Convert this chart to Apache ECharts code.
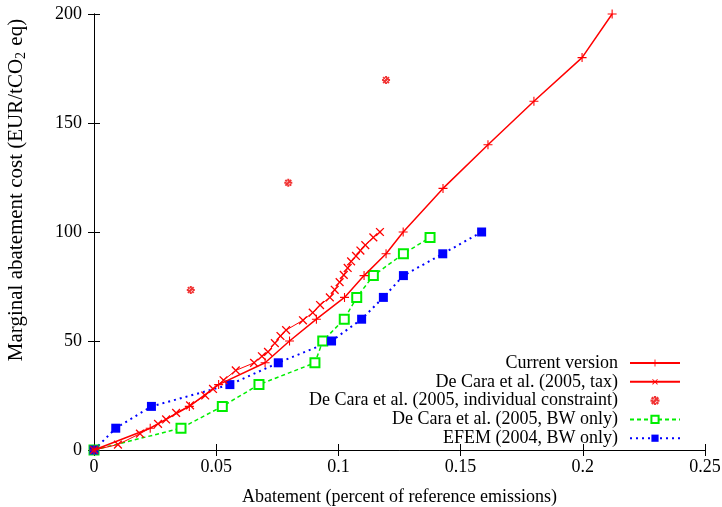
<!DOCTYPE html>
<html>
<head>
<meta charset="utf-8">
<script src="https://cdn.jsdelivr.net/npm/echarts@6/dist/echarts.min.js"></script>
<style>
  html, body { margin: 0; padding: 0; background: #fff; }
  #chart { width: 722px; height: 507px; }
</style>
</head>
<body>
<div id="chart"></div>
<script>
// abatement (share of reference emissions) vs marginal cost (EUR/tCO2 eq)
const currentVersion = [
  [0, 0], [0.023, 10], [0.039, 20], [0.051, 30], [0.070, 40], [0.080, 50],
  [0.091, 60], [0.1025, 70], [0.1105, 80], [0.1195, 90], [0.1265, 100],
  [0.1428, 120], [0.1612, 140], [0.180, 160], [0.1997, 180], [0.212, 200]
];
const deCaraTax = [
  [0, 0], [0.0098, 2.5], [0.0188, 7.5], [0.0262, 12], [0.0295, 14], [0.0336, 17],
  [0.0393, 20.5], [0.0455, 25], [0.0487, 28], [0.053, 32], [0.058, 36.5],
  [0.0655, 40], [0.0687, 43], [0.0712, 45], [0.074, 49], [0.0763, 52.3],
  [0.0786, 55], [0.0855, 59.5], [0.0895, 63], [0.0925, 66.5], [0.0965, 70],
  [0.0985, 73.5], [0.1005, 77], [0.1022, 80.3], [0.1038, 83.5], [0.1052, 86.5],
  [0.1072, 89], [0.1090, 91.5], [0.1110, 94], [0.1143, 97.5], [0.1170, 100]
];
const deCaraIndividual = [[0.0396, 73.4], [0.0795, 122.6], [0.1195, 169.7]];
const deCaraBW = [
  [0, 0], [0.0356, 10], [0.0525, 20], [0.0675, 30], [0.0904, 40], [0.0936, 50],
  [0.1024, 60], [0.1075, 70], [0.1143, 80], [0.1266, 90], [0.1375, 97.5]
];
const efemBW = [
  [0, 0], [0.0089, 10], [0.0235, 20], [0.0556, 30], [0.0754, 40], [0.0972, 50],
  [0.1095, 60], [0.1184, 70], [0.1266, 80], [0.1427, 90], [0.1586, 100]
];
const xTicks = [0, 0.05, 0.1, 0.15, 0.2, 0.25];
const yTicks = [0, 50, 100, 150, 200];

const FONT = "Liberation Serif";
const plusPath = "path://M-0.6,-5H0.6V-0.6H5V0.6H0.6V5H-0.6V0.6H-5V-0.6H-0.6Z";
const starPath = "path://M-1,-4H1V4H-1Z M-4,-1H4V1H-4Z M-3.6,-2.2L2.2,3.6L3.6,2.2L-2.2,-3.6Z M-3.6,2.2L2.2,-3.6L3.6,-2.2L-2.2,3.6Z";

const chart = echarts.init(document.getElementById("chart"));

const axisLine = { show: true, lineStyle: { color: "#000", width: 1 } };
const tick = { show: true, inside: true, length: 6, lineStyle: { color: "#000" } };
const labelStyle = { color: "#000", fontFamily: FONT, fontSize: 18 };

function fmtX(v) {
  return xTicks.indexOf(v) >= 0 ? String(v) : "";
}
function fmtY(v) {
  return yTicks.indexOf(v) >= 0 ? String(v) : "";
}

const option = {
  backgroundColor: "#fff",
  animation: false,
  grid: { left: 94, right: 17, top: 14, bottom: 57, containLabel: false, outerBoundsMode: "none" },
  legend: {
    orient: "vertical",
    right: 36,
    top: 349,
    align: "right",
    itemWidth: 50,
    itemHeight: 9,
    itemGap: 0.8,
    textStyle: { color: "#000", fontFamily: FONT, fontSize: 18, padding: [0, 7, 0, 0] },
    data: [
      "Current version",
      "De Cara et al. (2005, tax)",
      "De Cara et al. (2005, individual constraint)",
      "De Cara et al. (2005, BW only)",
      "EFEM (2004, BW only)"
    ]
  },
  xAxis: [
    {
      type: "value", min: 0, max: 0.25, interval: 0.05,
      axisLine: axisLine, axisTick: tick, splitLine: { show: false },
      axisLabel: Object.assign({ margin: 8, formatter: fmtX }, labelStyle),
      name: "Abatement (percent of reference emissions)",
      nameLocation: "middle", nameGap: 38,
      nameTextStyle: { color: "#000", fontFamily: FONT, fontSize: 18 }
    },
    {
      type: "value", min: 0, max: 0.25, interval: 0.05, position: "top",
      axisLine: axisLine, axisTick: tick, axisLabel: { show: false }, splitLine: { show: false }
    }
  ],
  yAxis: [
    {
      type: "value", min: 0, max: 200, interval: 50,
      axisLine: axisLine, axisTick: tick, splitLine: { show: false },
      axisLabel: Object.assign({ margin: 12, formatter: fmtY }, labelStyle),
      name: "Marginal abatement cost (EUR/tCO{sub|2} eq)",
      nameLocation: "middle", nameGap: 66,
      nameTextStyle: {
        color: "#000", fontFamily: FONT, fontSize: 21,
        padding: [0, 0, 0, 84],
        rich: { sub: { fontFamily: FONT, fontSize: 14, padding: [9, 1, 0, 0], color: "#000" } }
      }
    },
    {
      type: "value", min: 0, max: 200, interval: 50, position: "right",
      axisLine: axisLine, axisTick: tick, axisLabel: { show: false }, splitLine: { show: false }
    }
  ],
  series: [
    {
      name: "Current version", type: "line", data: currentVersion,
      symbol: plusPath, symbolSize: 9, showAllSymbol: true,
      itemStyle: { color: "#ff0000" },
      lineStyle: { color: "#ff0000", width: 1.5 }, z: 5
    },
    {
      name: "De Cara et al. (2005, tax)", type: "line", data: deCaraTax,
      symbol: plusPath, symbolRotate: 45, symbolSize: 11, showAllSymbol: true,
      itemStyle: { color: "#ff0000" },
      lineStyle: { color: "#ff0000", width: 1 }, z: 4
    },
    {
      name: "De Cara et al. (2005, individual constraint)", type: "scatter", data: deCaraIndividual,
      symbol: starPath, symbolSize: 8,
      itemStyle: { color: "#ee0000" }, z: 4
    },
    {
      name: "De Cara et al. (2005, BW only)", type: "line", data: deCaraBW,
      symbol: "emptyRect", symbolSize: 9, showAllSymbol: true,
      itemStyle: { color: "#00ee00", borderColor: "#00ee00", borderWidth: 1.5 },
      lineStyle: { color: "#00ee00", width: 1.5, type: [4, 3] }, z: 3
    },
    {
      name: "EFEM (2004, BW only)", type: "line", data: efemBW,
      symbol: "rect", symbolSize: 9, showAllSymbol: true,
      itemStyle: { color: "#0000ff" },
      lineStyle: { color: "#0000ff", width: 2, type: [2, 4] }, z: 3
    }
  ]
};

chart.setOption(option);
</script>
</body>
</html>
